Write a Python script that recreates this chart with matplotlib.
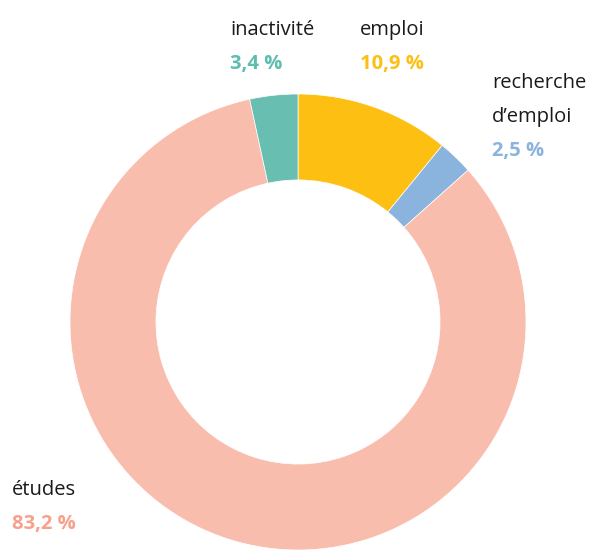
import matplotlib.pyplot as plt

# Données
categories = ['emploi', "recherche\nd\u2019emploi", '\u00e9tudes', 'inactivit\u00e9']
values = [10.9, 2.5, 83.2, 3.4]
colors = ['#FDBF12', '#8AB3DE', '#F9BDAE', '#67BEB1']
value_colors = ['#FDBF12', '#8AB3DE', '#F7A08C', '#5DBDAF']
value_labels = ['10,9 %', '2,5 %', '83,2 %', '3,4 %']

W, H = 590, 551
fig = plt.figure(figsize=(W / 100, H / 100), dpi=100)

# Axe positionné pour que le centre soit à (298, 322) px et le rayon 228 px
cx, cy, r = 298, 322, 228
ax = fig.add_axes([(cx - r) / W, (H - cy - r) / H, 2 * r / W, 2 * r / H])
ax.pie(values, colors=colors, startangle=90, counterclock=False, radius=1,
       wedgeprops=dict(width=0.377, edgecolor='white', linewidth=0.5))
ax.set_xlim(-1, 1)
ax.set_ylim(-1, 1)
ax.set_aspect('equal')
ax.axis('off')

# Étiquettes (x, y de la ligne de base en px)
label_pos = [(360, 35), (492, 88), (12, 495), (230, 35)]
line_h = 34
for cat, val, vc, (x, y) in zip(categories, value_labels, value_colors, label_pos):
    lines = cat.split('\n')
    for i, ln in enumerate(lines):
        fig.text(x / W, 1 - (y + i * line_h) / H, ln, fontsize=14.5, family='Open Sans',
                 color='#1a1a1a', ha='left', va='baseline')
    fig.text(x / W, 1 - (y + len(lines) * line_h) / H, val, fontsize=14.5, family='Open Sans',
             fontweight='bold', color=vc, ha='left', va='baseline')

fig.savefig('out.png', dpi=100)
